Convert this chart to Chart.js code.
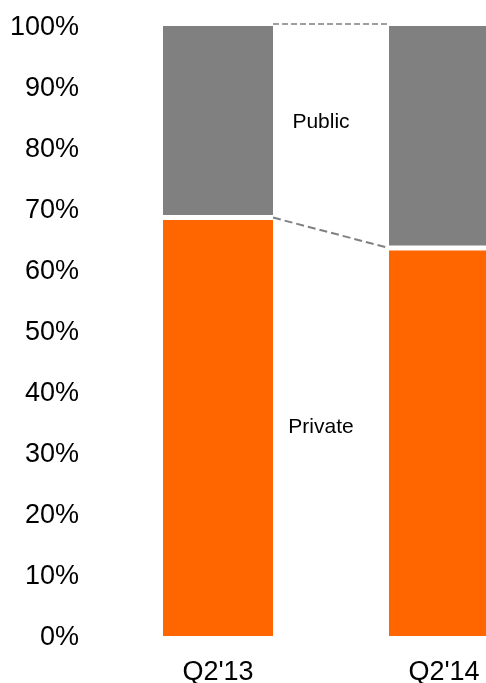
<!DOCTYPE html>
<html>
<head>
<meta charset="utf-8">
<script src="https://cdn.jsdelivr.net/npm/chart.js@4"></script>
<style>
html,body{margin:0;padding:0;background:#fff;overflow:hidden;width:486px;height:683px;}
#wrap{position:absolute;left:0;top:0;width:557px;height:683px;}
</style>
</head>
<body>
<div id="wrap"><canvas id="c"></canvas></div>
<script>
const categories = ["Q2'13", "Q2'14"];
const privateShare = [68.6, 63.6];
const publicShare = [31.4, 36.4];
const yTicks = [0, 10, 20, 30, 40, 50, 60, 70, 80, 90, 100];
const seriesNames = ["Private", "Public"];

const FONT = "'Liberation Sans', Arial, sans-serif";

const connectors = {
  id: 'connectors',
  afterDatasetsDraw(chart) {
    const ctx = chart.ctx;
    const mPriv = chart.getDatasetMeta(0).data;
    const mPub = chart.getDatasetMeta(1).data;
    const y = chart.scales.y;
    ctx.save();
    ctx.strokeStyle = '#808080';
    ctx.lineWidth = 1.3;
    ctx.setLineDash([6, 3]);
    ctx.beginPath();
    ctx.moveTo(mPub[0].x + mPub[0].width / 2, mPub[0].y - 2);
    ctx.lineTo(mPub[1].x - mPub[1].width / 2, mPub[1].y - 2);
    ctx.stroke();
    ctx.lineWidth = 2;
    ctx.setLineDash([8, 4]);
    ctx.beginPath();
    ctx.moveTo(mPriv[0].x + mPriv[0].width / 2, mPriv[0].y);
    ctx.lineTo(mPriv[1].x - mPriv[1].width / 2, mPriv[1].y);
    ctx.stroke();
    ctx.setLineDash([]);
    const xm = (mPriv[0].x + mPriv[0].width / 2 + mPriv[1].x - mPriv[1].width / 2) / 2 - 10;
    ctx.fillStyle = '#000';
    ctx.font = '21px ' + FONT;
    ctx.textAlign = 'center';
    ctx.textBaseline = 'middle';
    ctx.fillText(seriesNames[1], xm, y.getPixelForValue(privateShare[0] + publicShare[0] / 2));
    ctx.fillText(seriesNames[0], xm, y.getPixelForValue(privateShare[0] / 2));
    ctx.restore();
  }
};

new Chart(document.getElementById('c'), {
  type: 'bar',
  data: {
    labels: categories,
    datasets: [
      {
        label: seriesNames[0],
        data: privateShare,
        backgroundColor: '#FF6600',
        borderColor: '#FFFFFF',
        borderWidth: {top: 2.5, bottom: 0, left: 0, right: 0},
        borderSkipped: false,
        categoryPercentage: 0.487,
        barPercentage: 1
      },
      {
        label: seriesNames[1],
        data: publicShare,
        backgroundColor: '#808080',
        borderColor: '#FFFFFF',
        borderWidth: {top: 0, bottom: 2.5, left: 0, right: 0},
        borderSkipped: false,
        categoryPercentage: 0.487,
        barPercentage: 1
      }
    ]
  },
  options: {
    responsive: true,
    maintainAspectRatio: false,
    animation: false,
    devicePixelRatio: 1,
    layout: {padding: {top: 26, left: 0, right: 0, bottom: 0}},
    plugins: {legend: {display: false}, tooltip: {enabled: false}},
    scales: {
      x: {
        stacked: true,
        grid: {display: false, drawTicks: false},
        border: {display: false},
        ticks: {color: '#000', font: {family: FONT, size: 27}, padding: 20},
        afterFit(s) { s.height = 47; s.paddingLeft = 0; s.paddingRight = 0; }
      },
      y: {
        stacked: true,
        min: 0,
        max: 100,
        grid: {display: false, drawTicks: false},
        border: {display: false},
        afterBuildTicks(s) { s.ticks = yTicks.map(v => ({value: v})); },
        ticks: {
          color: '#000',
          font: {family: FONT, size: 27},
          padding: 26,
          labelOffset: 2,
          callback: v => v + '%'
        },
        afterFit(s) { s.width = 105; s.paddingTop = 0; s.paddingBottom = 0; }
      }
    }
  },
  plugins: [connectors]
});
</script>
</body>
</html>
